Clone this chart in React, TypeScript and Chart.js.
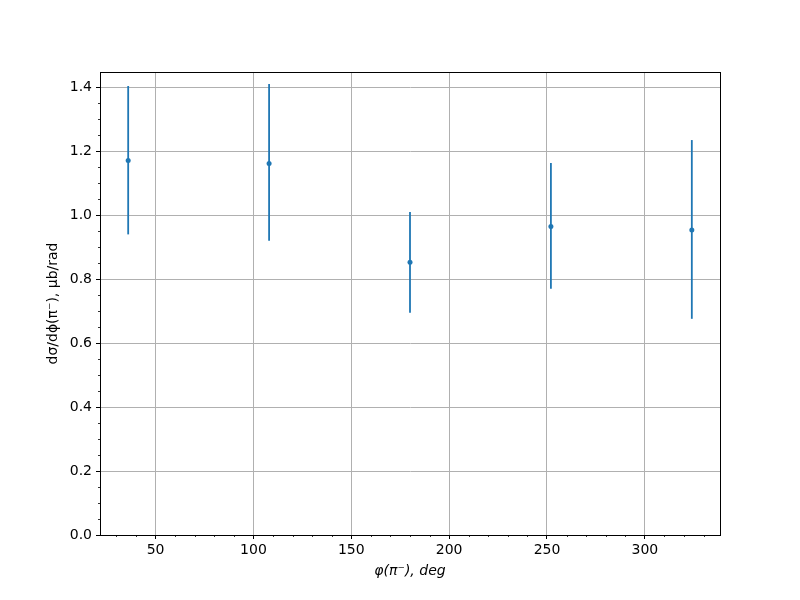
import React, { useEffect, useRef } from "react";
import { Chart, registerables } from "chart.js";

Chart.register(...registerables);

const phiDeg = [36, 108, 180, 252, 324];
const xsec = [1.171, 1.162, 0.853, 0.965, 0.954];
const errLow = [0.94, 0.92, 0.695, 0.77, 0.676];
const errHigh = [1.404, 1.41, 1.01, 1.163, 1.235];
const xTicks = [50, 100, 150, 200, 250, 300];
const yTicks = [0, 0.2, 0.4, 0.6, 0.8, 1.0, 1.2, 1.4];
const xMinorStep = 10;
const yMinorStep = 0.05;

const COLOR = "#1f77b4";
const FONT = "DejaVu Sans";

const extrasPlugin = {
  id: "extras",
  beforeDatasetsDraw(chart: any) {
    const { ctx, scales } = chart;
    const xs = scales.x;
    const ys = scales.y;
    ctx.save();
    ctx.strokeStyle = COLOR;
    ctx.lineWidth = 1.8;
    for (let i = 0; i < phiDeg.length; i++) {
      const px = xs.getPixelForValue(phiDeg[i]);
      ctx.beginPath();
      ctx.moveTo(px, ys.getPixelForValue(errLow[i]));
      ctx.lineTo(px, ys.getPixelForValue(errHigh[i]));
      ctx.stroke();
    }
    ctx.restore();
  },
  afterDraw(chart: any) {
    const { ctx, scales, chartArea } = chart;
    const xs = scales.x;
    const ys = scales.y;
    ctx.save();
    ctx.strokeStyle = "black";
    ctx.lineWidth = 0.8;
    for (let v = Math.ceil(xs.min / xMinorStep) * xMinorStep; v <= xs.max; v += xMinorStep) {
      if (v % 50 === 0) continue;
      const px = Math.round(xs.getPixelForValue(v)) + 0.5;
      ctx.beginPath();
      ctx.moveTo(px, chartArea.bottom);
      ctx.lineTo(px, chartArea.bottom + 2);
      ctx.stroke();
    }
    for (let k = 0; k * yMinorStep <= ys.max + 1e-9; k++) {
      if (k % 4 === 0) continue;
      const py = Math.round(ys.getPixelForValue(k * yMinorStep)) + 0.5;
      ctx.beginPath();
      ctx.moveTo(chartArea.left, py);
      ctx.lineTo(chartArea.left - 2, py);
      ctx.stroke();
    }
    ctx.lineWidth = 1;
    ctx.strokeStyle = "black";
    ctx.strokeRect(
      Math.round(chartArea.left) + 0.5,
      Math.round(chartArea.top) + 0.5,
      Math.round(chartArea.right - chartArea.left),
      Math.round(chartArea.bottom - chartArea.top)
    );
    ctx.restore();
  },
};

export default function App() {
  const ref = useRef<HTMLCanvasElement | null>(null);
  useEffect(() => {
    if (!ref.current) return;
    const chart = new Chart(ref.current, {
      type: "scatter",
      data: {
        datasets: [
          {
            data: phiDeg.map((x, i) => ({ x, y: xsec[i] })),
            backgroundColor: COLOR,
            borderColor: COLOR,
            pointRadius: 2.5,
            pointBorderWidth: 0,
            showLine: false,
          },
        ],
      },
      options: {
        animation: false,
        responsive: false,
        devicePixelRatio: 1,
        layout: { padding: { top: 72, right: 80, left: 0, bottom: 0 } },
        plugins: { legend: { display: false }, tooltip: { enabled: false } },
        scales: {
          x: {
            type: "linear",
            min: 21.6,
            max: 338.4,
            afterBuildTicks: (s: any) => {
              s.ticks = xTicks.map((v) => ({ value: v }));
            },
            afterFit: (s: any) => {
              s.height = 65;
            },
            ticks: {
              color: "black",
              font: { family: FONT, size: 14 },
              padding: 3,
              maxRotation: 0,
              callback: (v: any) => String(v),
            },
            grid: {
              color: "#b0b0b0",
              lineWidth: 1,
              tickColor: "black",
              tickLength: 4,
              tickWidth: 1,
            },
            border: { color: "black", width: 1 },
            title: {
              display: true,
              text: "φ(π⁻), deg",
              color: "black",
              font: { family: FONT, size: 14, style: "italic" },
              padding: { top: 20, bottom: 20 },
            },
          },
          y: {
            type: "linear",
            min: 0,
            max: 1.4478,
            afterBuildTicks: (s: any) => {
              s.ticks = yTicks.map((v) => ({ value: v }));
            },
            afterFit: (s: any) => {
              s.width = 100;
            },
            ticks: {
              color: "black",
              font: { family: FONT, size: 14 },
              padding: 4,
              callback: (v: any) => Number(v).toFixed(1),
            },
            grid: {
              color: "#b0b0b0",
              lineWidth: 1,
              tickColor: "black",
              tickLength: 4,
              tickWidth: 1,
            },
            border: { color: "black", width: 1 },
            title: {
              display: true,
              text: "dσ/dϕ(π⁻), μb/rad",
              color: "black",
              font: { family: FONT, size: 14 },
              padding: { top: 45, bottom: 45 },
            },
          },
        },
      },
      plugins: [extrasPlugin],
    });
    return () => chart.destroy();
  }, []);
  return (
    <div style={{ position: "absolute", left: 0, top: 0, width: 800, height: 600, background: "white" }}>
      <canvas ref={ref} width={800} height={600} style={{ width: 800, height: 600 }} />
    </div>
  );
}
